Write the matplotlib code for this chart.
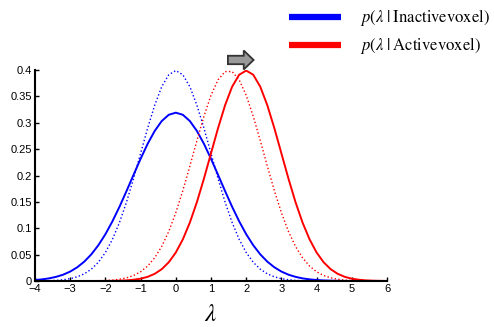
import matplotlib
matplotlib.use('Agg')
import matplotlib.pyplot as plt
from matplotlib.lines import Line2D
from matplotlib.patches import FancyArrow

plt.rcParams['font.family'] = ['Liberation Sans', 'DejaVu Sans']
plt.rcParams['mathtext.fontset'] = 'stix'

# lambda values, read every 0.2 from -4 to 6
lam = [-4.0, -3.8, -3.6, -3.4, -3.2, -3.0, -2.8, -2.6, -2.4, -2.2,
       -2.0, -1.8, -1.6, -1.4, -1.2, -1.0, -0.8, -0.6, -0.4, -0.2,
       0.0, 0.2, 0.4, 0.6, 0.8, 1.0, 1.2, 1.4, 1.6, 1.8,
       2.0, 2.2, 2.4, 2.6, 2.8, 3.0, 3.2, 3.4, 3.6, 3.8,
       4.0, 4.2, 4.4, 4.6, 4.8, 5.0, 5.2, 5.4, 5.6, 5.8, 6.0]

# inactive voxel, wide (solid blue)
inactive_solid = [.0019, .0031, .0050, .0079, .0120, .0179, .0260, .0367, .0505, .0678,
                  .0887, .1132, .1407, .1705, .2013, .2317, .2600, .2844, .3032, .3151,
                  .3191, .3151, .3032, .2844, .2600, .2317, .2013, .1705, .1407, .1132,
                  .0887, .0678, .0505, .0367, .0260, .0179, .0120, .0079, .0050, .0031,
                  .0019, .0011, .0007, .0004, .0002, .0001, .0001, 0, 0, 0, 0]

# inactive voxel, narrow (dotted blue)
inactive_dot = [.0001, .0003, .0006, .0012, .0024, .0044, .0079, .0136, .0224, .0355,
                .0540, .0790, .1109, .1497, .1942, .2420, .2897, .3332, .3683, .3910,
                .3989, .3910, .3683, .3332, .2897, .2420, .1942, .1497, .1109, .0790,
                .0540, .0355, .0224, .0136, .0079, .0044, .0024, .0012, .0006, .0003,
                .0001, .0001, 0, 0, 0, 0, 0, 0, 0, 0, 0]

# active voxel, shifted (solid red)
active_solid = [0, 0, 0, 0, 0, 0, 0, 0, 0, .0001,
                .0001, .0003, .0006, .0012, .0024, .0044, .0079, .0136, .0224, .0355,
                .0540, .0790, .1109, .1497, .1942, .2420, .2897, .3332, .3683, .3910,
                .3989, .3910, .3683, .3332, .2897, .2420, .1942, .1497, .1109, .0790,
                .0540, .0355, .0224, .0136, .0079, .0044, .0024, .0012, .0006, .0003, .0001]

# active voxel, before shift (dotted red)
active_dot = [0, 0, 0, 0, 0, 0, 0, .0001, .0002, .0004,
              .0009, .0017, .0033, .0060, .0104, .0175, .0283, .0440, .0656, .0940,
              .1295, .1714, .2179, .2661, .3123, .3521, .3814, .3970, .3970, .3814,
              .3521, .3123, .2661, .2179, .1714, .1295, .0940, .0656, .0440, .0283,
              .0175, .0104, .0060, .0033, .0017, .0009, .0004, .0002, .0001, 0, 0]

xticks = [-4, -3, -2, -1, 0, 1, 2, 3, 4, 5, 6]
yticks = [0, 0.05, 0.1, 0.15, 0.2, 0.25, 0.3, 0.35, 0.4]
ytick_labels = ['0', '0.05', '0.1', '0.15', '0.2', '0.25', '0.3', '0.35', '0.4']

fig = plt.figure(figsize=(4.94, 3.27), dpi=100)
ax = fig.add_axes([35 / 494, 1 - 281 / 327, 352 / 494, 211 / 327])

ax.plot(lam, inactive_solid, color='#0000ff', lw=1.4)
ax.plot(lam, inactive_dot, color='#0000ff', lw=1.0, ls=':')
ax.plot(lam, active_dot, color='#ff0000', lw=1.0, ls=':')
ax.plot(lam, active_solid, color='#ff0000', lw=1.4)

ax.set_xlim(-4, 6)
ax.set_ylim(0, 0.4)
ax.set_xticks(xticks)
ax.set_yticks(yticks)
ax.set_yticklabels(ytick_labels)
ax.tick_params(direction='in', length=3, width=1, labelsize=8, pad=2)
ax.spines['top'].set_visible(False)
ax.spines['right'].set_visible(False)
ax.spines['left'].set_linewidth(1.5)
ax.spines['bottom'].set_linewidth(1.5)
ax.set_xlabel(r'$\lambda$', fontsize=18, labelpad=6)

# shift arrow above the peaks
arr = FancyArrow(1.48, 0.419, 0.45, 0, width=0.016, head_width=0.036,
                 head_length=0.28, length_includes_head=False,
                 facecolor='#999999', edgecolor='#333333', lw=1.3, clip_on=False)
ax.add_patch(arr)

# legend drawn in figure space
fig.add_artist(Line2D([289 / 494, 341 / 494], [1 - 17 / 327, 1 - 17 / 327],
                      color='#0000ff', lw=4.5, solid_capstyle='butt'))
fig.add_artist(Line2D([289 / 494, 341 / 494], [1 - 45 / 327, 1 - 45 / 327],
                      color='#ff0000', lw=4.5, solid_capstyle='butt'))
fig.text(360 / 494, 1 - 17 / 327, r'$p(\lambda\;|\;\mathrm{Inactivevoxel})$',
         fontsize=12, va='center', ha='left')
fig.text(360 / 494, 1 - 45 / 327, r'$p(\lambda\;|\;\mathrm{Activevoxel})$',
         fontsize=12, va='center', ha='left')

fig.savefig('out.png', dpi=100)
